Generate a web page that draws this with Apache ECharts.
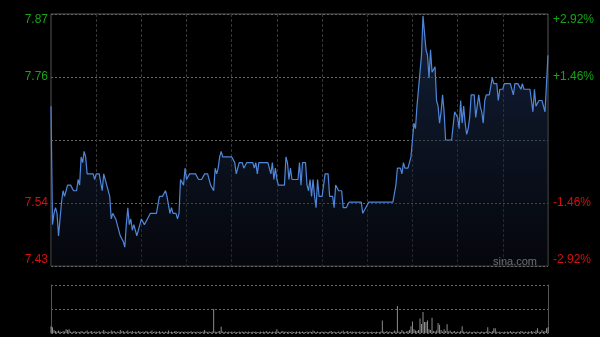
<!DOCTYPE html>
<html>
<head>
<meta charset="utf-8">
<script src="https://cdn.jsdelivr.net/npm/echarts@6/dist/echarts.min.js"></script>
<style>html,body{margin:0;padding:0;background:#000;}#c{width:600px;height:337px;}</style>
</head>
<body>
<div id="c"></div>
<script>
// ---- data ----
const prevClose = 7.65;
const pctTicks = [-2.92, -1.46, 1.46, 2.92];
const prices = [
7.71,7.50,7.52,7.53,7.52,7.48,7.51,7.54,7.56,7.55,
7.56,7.57,7.57,7.57,7.57,7.56,7.56,7.56,7.58,7.57,
7.62,7.61,7.63,7.62,7.59,7.59,7.59,7.59,7.59,7.58,
7.59,7.59,7.59,7.59,7.56,7.59,7.58,7.57,7.57,7.55,
7.51,7.52,7.52,7.51,7.50,7.50,7.48,7.48,7.47,7.46,
7.50,7.53,7.50,7.51,7.49,7.50,7.49,7.48,7.49,7.50,
7.51,7.51,7.50,7.50,7.51,7.51,7.52,7.52,7.52,7.52,
7.52,7.52,7.55,7.55,7.55,7.55,7.56,7.55,7.55,7.52,
7.53,7.52,7.52,7.52,7.51,7.52,7.58,7.58,7.57,7.60,
7.58,7.58,7.59,7.59,7.59,7.59,7.59,7.59,7.58,7.58,
7.58,7.58,7.59,7.59,7.59,7.58,7.57,7.57,7.56,7.60,
7.59,7.60,7.62,7.63,7.62,7.62,7.62,7.62,7.62,7.62,
7.62,7.62,7.61,7.59,7.60,7.61,7.61,7.61,7.60,7.60,
7.61,7.61,7.61,7.61,7.61,7.60,7.61,7.59,7.61,7.61,
7.61,7.61,7.61,7.61,7.61,7.61,7.59,7.61,7.58,7.60,
7.58,7.57,7.57,7.57,7.57,7.57,7.62,7.61,7.58,7.60,
7.58,7.58,7.58,7.58,7.58,7.61,7.57,7.61,7.61,7.61,
7.57,7.56,7.58,7.55,7.58,7.55,7.53,7.58,7.55,7.55,
7.55,7.57,7.59,7.59,7.59,7.55,7.55,7.55,7.53,7.57,
7.57,7.56,7.56,7.56,7.53,7.53,7.53,7.53,7.54,7.54,
7.54,7.54,7.54,7.54,7.54,7.54,7.54,7.52,7.52,7.53,
7.53,7.54,7.54,7.54,7.54,7.54,7.54,7.54,7.54,7.54,
7.54,7.54,7.54,7.54,7.54,7.54,7.54,7.54,7.54,7.57,
7.60,7.60,7.60,7.59,7.61,7.60,7.60,7.60,7.61,7.62,
7.65,7.68,7.67,7.71,7.74,7.77,7.80,7.87,7.84,7.81,
7.80,7.76,7.81,7.77,7.77,7.78,7.72,7.71,7.68,7.70,
7.73,7.70,7.65,7.65,7.65,7.65,7.65,7.65,7.70,7.70,
7.69,7.67,7.72,7.68,7.71,7.68,7.66,7.67,7.69,7.73,
7.73,7.73,7.69,7.71,7.73,7.71,7.70,7.68,7.72,7.73,
7.73,7.73,7.73,7.76,7.75,7.75,7.75,7.72,7.74,7.74,
7.74,7.75,7.75,7.75,7.75,7.75,7.75,7.73,7.75,7.75,
7.75,7.75,7.74,7.75,7.74,7.74,7.74,7.74,7.74,7.74,
7.70,7.74,7.71,7.71,7.72,7.72,7.72,7.72,7.70,7.70,7.80
];
const volumes = [
14,12,6,4,3,5,3,2,4,3,
8,6,8,3,2,3,4,2,3,2,
4,3,2,3,5,2,3,4,2,3,
3,2,4,2,3,6,3,2,3,2,
5,3,4,2,3,2,6,3,4,2,
3,5,2,3,4,2,3,2,4,3,
2,3,2,4,3,2,3,5,2,3,
3,2,4,2,3,2,3,2,5,2,
3,2,3,4,2,3,2,3,2,3,
2,3,2,4,2,3,2,3,2,3,
2,3,6,3,2,3,2,3,50,3,
2,3,4,13,3,2,3,2,3,2,
3,2,3,2,2,3,2,3,2,3,
2,3,2,2,3,2,3,2,2,3,
2,3,2,4,2,3,2,3,2,3,
8,3,2,3,4,2,3,2,3,2,
3,2,2,3,2,3,2,3,2,2,
3,2,3,2,5,3,2,3,2,2,
3,2,3,2,2,3,4,2,3,2,
2,3,2,3,5,2,3,4,2,3,
3,2,3,2,2,3,2,3,2,2,
3,2,2,3,2,2,3,2,2,3,
26,3,2,4,2,3,2,2,5,3,
56,3,2,6,3,2,3,4,6,14,
24,8,5,4,6,30,19,44,23,23,
26,8,6,32,4,3,5,21,17,6,
3,8,4,18,3,5,2,3,4,2,
3,2,4,14,3,2,3,2,3,2,
2,3,2,3,2,2,3,2,2,3,
12,3,2,4,10,10,3,2,3,2,
2,3,2,3,2,4,2,3,2,2,
3,2,4,3,2,3,2,3,2,4,
3,2,5,10,3,2,6,3,4,10,12
];
// time categories (HK session 09:30-12:00, 13:01-16:00)
const times = [];
function pad(n){return (n<10?'0':'')+n;}
for (let m = 9*60+30; m <= 12*60; m++) times.push(pad(Math.floor(m/60))+':'+pad(m%60));
for (let m = 13*60+1; m <= 16*60; m++) times.push(pad(Math.floor(m/60))+':'+pad(m%60));

const pMin = prevClose*(1+pctTicks[0]/100);
const pMax = prevClose*(1+pctTicks[3]/100);
const priceTicks = pctTicks.map(p => prevClose*(1+p/100));

const GREEN = '#17a317', RED = '#d41010';

const chart = echarts.init(document.getElementById('c'), null, {renderer:'canvas'});
chart.setOption({
  backgroundColor: '#000',
  animation: false,
  grid: [
    {left: 51, top: 14, width: 497, height: 252, show: true, borderColor: '#555', borderWidth: 1, backgroundColor: 'transparent'},
    {left: 51, top: 285, width: 497, height: 48}
  ],
  xAxis: [
    {type: 'category', gridIndex: 0, data: times, boundaryGap: false,
     axisLine: {show: false}, axisTick: {show: false}, axisLabel: {show: false},
     splitLine: {show: true, interval: (i) => i % 30 === 0 && i > 0 && i < 330,
       lineStyle: {color: '#363636', type: [3, 2], width: 1}}},
    {type: 'category', gridIndex: 1, data: times, boundaryGap: false,
     axisLine: {show: false}, axisTick: {show: false}, axisLabel: {show: false}, splitLine: {show: false}}
  ],
  yAxis: [
    {type: 'value', gridIndex: 0, position: 'left', min: pMin, max: pMax,
     axisLine: {show: false}, axisTick: {show: false}, splitLine: {show: false},
     axisLabel: {show: true, customValues: priceTicks, formatter: v => v.toFixed(2),
       color: v => (v > prevClose ? GREEN : RED), fontSize: 12, fontFamily: 'Arial', margin: 3,
       verticalAlignMinLabel: 'bottom', verticalAlignMaxLabel: 'top'}},
    {type: 'value', gridIndex: 0, position: 'right', min: pctTicks[0], max: pctTicks[3], interval: pctTicks[2],
     axisLine: {show: false}, axisTick: {show: false},
     splitLine: {show: true, lineStyle: {color: '#666', type: [2, 2], width: 1}},
     axisLabel: {show: true, formatter: v => (Math.abs(v) < 1e-9 ? '' : (v > 0 ? '+' : '') + v.toFixed(2) + '%'),
       color: v => (v > 0 ? GREEN : RED), fontSize: 12, fontFamily: 'Arial', margin: 5,
       verticalAlignMinLabel: 'bottom', verticalAlignMaxLabel: 'top'}},
    {type: 'value', gridIndex: 1, position: 'left', min: 0, max: 100, interval: 50,
     axisLine: {show: true, lineStyle: {color: '#555'}}, axisTick: {show: false}, axisLabel: {show: false},
     splitLine: {show: true, lineStyle: {color: '#666', type: [2, 2], width: 1}}},
    {type: 'value', gridIndex: 1, position: 'right', min: 0, max: 100,
     axisLine: {show: true, lineStyle: {color: '#555'}}, axisTick: {show: false}, axisLabel: {show: false},
     splitLine: {show: false}}
  ],
  series: [
    {type: 'line', xAxisIndex: 0, yAxisIndex: 0, data: prices, showSymbol: false, symbol: 'none',
     lineStyle: {color: '#4f86da', width: 1.2},
     areaStyle: {origin: 'start', color: new echarts.graphic.LinearGradient(0, 0, 0, 1, [
       {offset: 0, color: 'rgba(36,62,110,0.75)'}, {offset: 1, color: 'rgba(12,16,28,0.6)'}])}},
    {type: 'bar', xAxisIndex: 1, yAxisIndex: 2, data: volumes, barWidth: 1,
     itemStyle: {color: '#8c8c8c'}}
  ],
  graphic: [
    {type: 'text', right: 63, top: 256, style: {text: 'sina.com', fill: '#b0b0b0', font: '11px Arial'}}
  ]
});
</script>
</body>
</html>
